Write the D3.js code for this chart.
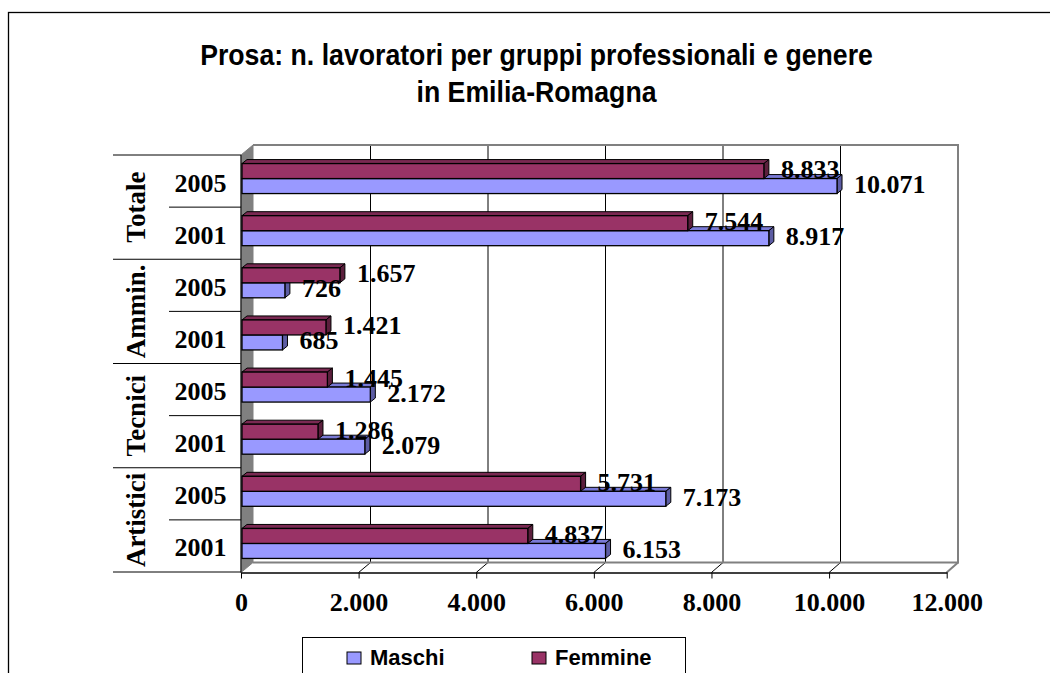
<!DOCTYPE html>
<html><head><meta charset="utf-8">
<script src="https://cdn.jsdelivr.net/npm/d3@7"></script>
<style>body{margin:0;background:#fff}svg{display:block}</style>
</head><body><svg id="c" width="1050" height="673"></svg>
<script>
const groups = ["Totale","Totale","Ammin.","Ammin.","Tecnici","Tecnici","Artistici","Artistici"];
const years = ["2005","2001","2005","2001","2005","2001","2005","2001"];
const maschi = [10071, 8917, 726, 685, 2172, 2079, 7173, 6153];
const femmine = [8833, 7544, 1657, 1421, 1445, 1286, 5731, 4837];
const tickValues = [0, 2000, 4000, 6000, 8000, 10000, 12000];
const seriesNames = ["Maschi", "Femmine"];
const titleLines = ["Prosa: n. lavoratori per gruppi professionali e genere", "in Emilia-Romagna"];

const svg = d3.select("#c");
const serif = "'Liberation Serif','Times New Roman',serif";
const sans = "'Liberation Sans',Arial,sans-serif";
const fmt = d3.formatLocale({decimal: ",", thousands: ".", grouping: [3], currency: ["", "€"]}).format(",d");

// frame
svg.append("rect").attr("x", 8.5).attr("y", 12.5).attr("width", 1200).attr("height", 1000)
  .attr("fill", "#fff").attr("stroke", "#000").attr("stroke-width", 1.3);

// title
const tg = svg.append("g");
const t1 = tg.append("text").text(titleLines[0]).attr("font-family", sans).attr("font-weight", "bold")
  .attr("font-size", 30).attr("text-anchor", "middle");
const w1 = t1.node().getComputedTextLength();
const k = 673 / w1;
t1.attr("transform", `translate(536.5,65) scale(${k},1)`);
tg.append("text").text(titleLines[1]).attr("font-family", sans).attr("font-weight", "bold")
  .attr("font-size", 30).attr("text-anchor", "middle")
  .attr("transform", `translate(536.5,102) scale(${k},1)`);

// scales
const front = {y: 572.5};
const back = {y: 562.5, top: 145};
const xf = d3.scaleLinear().domain([0, 12000]).range([241, 946.7]);
const xb = d3.scaleLinear().domain([0, 12000]).range([253, 958]);
const xBar = d3.scaleLinear().domain([0, 12000]).range([242, 951]);
const y = d3.scaleBand().domain(d3.range(groups.length)).range([155, 572]);
const sub = d3.scaleBand().domain(["Femmine", "Maschi"]).range([-17.5, 12.5]);

// back wall
svg.append("rect").attr("x", xb(0)).attr("y", back.top).attr("width", xb(12000) - xb(0))
  .attr("height", back.y - back.top).attr("fill", "#fff");
// gridlines on back wall and floor
tickValues.slice(1, -1).forEach(v => {
  svg.append("line").attr("x1", xb(v)).attr("x2", xb(v)).attr("y1", back.top).attr("y2", back.y)
    .attr("stroke", "#000").attr("stroke-width", 1);
  svg.append("line").attr("x1", xf(v)).attr("x2", xb(v)).attr("y1", front.y).attr("y2", back.y)
    .attr("stroke", "#000").attr("stroke-width", 1);
});
// back wall border
svg.append("path").attr("d", `M${xb(0)},${back.top}H${xb(12000)}V${back.y}H${xb(0)}`)
  .attr("fill", "none").attr("stroke", "#808080").attr("stroke-width", 2);
// floor right edge
svg.append("line").attr("x1", xf(12000)).attr("y1", front.y).attr("x2", xb(12000)).attr("y2", back.y)
  .attr("stroke", "#808080").attr("stroke-width", 2);
// left side wall
svg.append("path").attr("d", `M${xf(0)},155L${xb(0)},${back.top}L${xb(0)},${back.y}L${xf(0)},${front.y}Z`)
  .attr("fill", "#808080").attr("stroke", "#808080");

// category axis lines
svg.append("line").attr("x1", xf(0)).attr("x2", xf(0)).attr("y1", 155).attr("y2", front.y)
  .attr("stroke", "#000");
d3.range(0, groups.length, 2).forEach(i => {
  svg.append("line").attr("x1", 113).attr("x2", xf(0)).attr("y1", y(i)).attr("y2", y(i)).attr("stroke", "#000");
  svg.append("line").attr("x1", 169).attr("x2", xf(0)).attr("y1", y(i + 1)).attr("y2", y(i + 1)).attr("stroke", "#000");
});
svg.append("line").attr("x1", 113).attr("x2", xf(0)).attr("y1", 572).attr("y2", 572).attr("stroke", "#000");

// year labels
svg.append("g").selectAll("text").data(years).join("text")
  .attr("x", 200.5).attr("y", (d, i) => y(i) + y.bandwidth() / 2 + 10.5)
  .attr("text-anchor", "middle").attr("font-family", serif).attr("font-weight", "bold")
  .attr("font-size", 26).text(d => d);
// group labels
const gnames = groups.filter((g, i) => i % 2 === 0);
svg.append("g").selectAll("text").data(gnames).join("text")
  .attr("transform", (d, j) => `translate(145,${y(2 * j) + y.bandwidth()}) rotate(-90)`)
  .attr("text-anchor", "middle").attr("font-family", serif).attr("font-weight", "bold")
  .attr("font-size", 27).text(d => d);

// front value axis
const ax = svg.append("g").attr("transform", `translate(0,${front.y})`)
  .call(d3.axisBottom(xf).tickValues(tickValues).tickFormat(fmt).tickSize(6).tickSizeOuter(0));
ax.select(".domain").attr("stroke", "#000").attr("stroke-width", 1.3);
ax.selectAll(".tick line").attr("stroke", "#000");
ax.selectAll(".tick text").attr("y", 38.5).attr("dy", 0).attr("fill", "#000")
  .attr("font-family", serif).attr("font-weight", "bold").attr("font-size", 26);

// bars
const colors = {
  Maschi: {front: "#9999FF", top: "#7A7AD6", side: "#5C5CA3"},
  Femmine: {front: "#993366", top: "#7A2952", side: "#5C1F3D"}
};
const dx = 5, dy = -4, bh = sub.bandwidth();
const rows = d3.range(groups.length).map(i => ({i, Maschi: maschi[i], Femmine: femmine[i]}));
const bars = svg.append("g");
rows.forEach(r => {
  const c = y(r.i) + y.bandwidth() / 2;
  ["Maschi", "Femmine"].forEach(s => {
    const x0 = xBar(0), x1 = xBar(r[s]), yt = c + sub(s);
    const col = colors[s];
    bars.append("path").attr("d", `M${x0},${yt}L${x0 + dx},${yt + dy}L${x1 + dx},${yt + dy}L${x1},${yt}Z`)
      .attr("fill", col.top).attr("stroke", "#000").attr("stroke-width", 1).attr("stroke-linejoin", "round");
    bars.append("path").attr("d", `M${x1},${yt}L${x1 + dx},${yt + dy}L${x1 + dx},${yt + bh + dy}L${x1},${yt + bh}Z`)
      .attr("fill", col.side).attr("stroke", "#000").attr("stroke-width", 1).attr("stroke-linejoin", "round");
    bars.append("rect").attr("x", x0).attr("y", yt).attr("width", x1 - x0).attr("height", bh)
      .attr("fill", col.front).attr("stroke", "#000").attr("stroke-width", 1.3);
  });
});
// value labels
const labels = svg.append("g");
rows.forEach(r => {
  const c = y(r.i) + y.bandwidth() / 2;
  ["Femmine", "Maschi"].forEach(s => {
    const yc = c + sub(s) + bh / 2;
    labels.append("text").attr("x", xBar(r[s]) + dx + 12).attr("y", yc + 7)
      .attr("font-family", serif).attr("font-weight", "bold").attr("font-size", 26)
      .text(fmt(r[s]));
  });
});

// legend
const lg = svg.append("g");
lg.append("rect").attr("x", 302.5).attr("y", 637.5).attr("width", 383).attr("height", 80)
  .attr("fill", "#fff").attr("stroke", "#000").attr("stroke-width", 1);
const lx = d3.scalePoint().domain(seriesNames).range([347, 532]);
seriesNames.forEach(s => {
  lg.append("rect").attr("x", lx(s)).attr("y", 652).attr("width", 14).attr("height", 12)
    .attr("fill", colors[s].front).attr("stroke", "#000").attr("stroke-width", 1);
  lg.append("text").attr("x", lx(s) + 23).attr("y", 665).attr("font-family", sans).attr("font-weight", "bold")
    .attr("font-size", 22).text(s);
});
</script></body></html>
